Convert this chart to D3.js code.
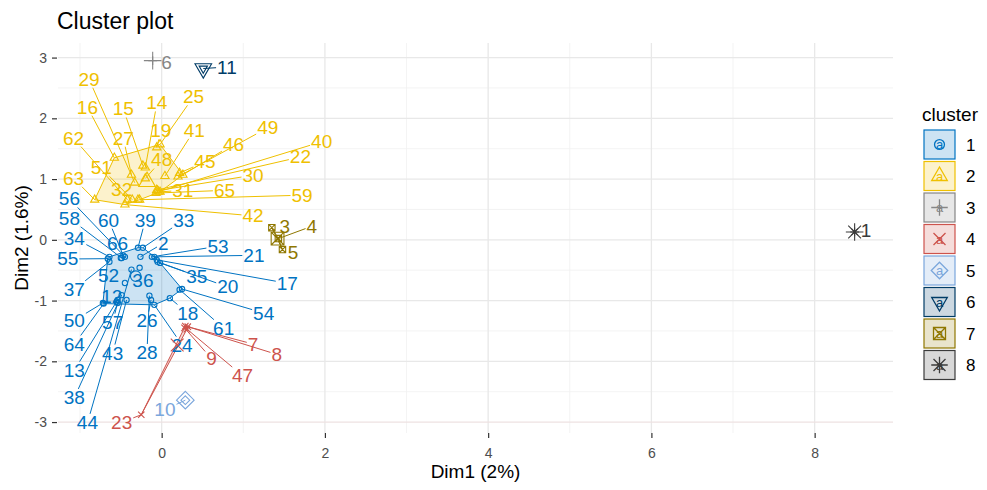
<!DOCTYPE html>
<html>
<head>
<meta charset="utf-8">
<script src="https://cdn.jsdelivr.net/npm/d3@7"></script>
<style>
  body { margin: 0; background: #fff; }
  text { font-family: "Liberation Sans", Arial, sans-serif; }
</style>
</head>
<body>
<svg id="chart" width="987" height="490"></svg>
<script>
// Observations 1..66 with their k-means cluster and PCA coordinates
const obsIds = d3.range(1, 67);
const cluster = [8,1,7,7,7,3,4,4,4,5,6,1,1,2,2,2,1,1,2,1,1,2,4,1,2,1,2,1,2,2,2,2,1,1,1,1,1,1,1,2,2,2,1,1,2,2,4,2,2,1,2,1,1,1,1,1,1,1,2,1,1,2,2,1,2,1];
const dim1 = [8.49,-0.26,1.35,1.43,1.48,-0.11,0.29,0.32,0.28,0.29,
  0.51,-0.55,-0.54,-0.20,-0.23,-0.58,-0.06,0.10,-0.06,-0.02,
  -0.09,-0.06,-0.25,-0.09,-0.02,-0.13,-0.37,-0.15,-0.33,-0.05,
  -0.02,-0.29,-0.23,-0.64,-0.05,-0.27,-0.64,-0.49,-0.29,-0.04,
  0.04,-0.45,-0.43,-0.37,0.22,0.26,0.31,-0.20,0.20,-0.72,
  -0.36,-0.45,-0.12,0.25,-0.66,-0.45,-0.54,-0.49,-0.27,-0.47,
  0.22,-0.42,-0.82,-0.71,-0.07,-0.50];
const dim2 = [0.13,-0.28,0.20,0.02,-0.16,2.95,-1.42,-1.43,-1.45,-2.64,
  2.82,-1.02,-0.99,1.19,1.22,1.35,-0.33,-0.96,1.52,-0.38,
  -0.28,0.82,-2.88,-1.07,1.57,-0.99,1.07,-0.92,0.94,0.81,
  0.79,0.66,-0.13,-0.28,-0.36,-0.46,-0.36,-0.91,-0.13,0.79,
  1.05,0.58,-0.99,-0.49,1.10,1.07,-1.47,1.01,1.04,-1.04,
  0.66,-0.71,-0.28,-0.81,-0.31,-0.28,-1.04,-0.30,0.66,-0.26,
  -0.82,0.66,0.66,-1.05,0.77,-0.30];
// Repelled label positions (same units as the dimensions)
const labelDim1 = [8.63,0.02,1.51,1.84,1.61,0.06,1.12,1.41,0.61,0.04,
  0.80,-0.61,-1.07,-0.06,-0.47,-0.91,1.54,0.32,-0.01,0.81,
  1.13,1.70,-0.49,0.25,0.39,-0.18,-0.47,-0.18,-0.89,1.12,
  0.26,-0.49,0.27,-1.07,0.43,-0.23,-1.07,-1.07,-0.20,1.96,
  0.40,1.12,-0.60,-0.91,0.53,0.88,0.99,0.00,1.30,-1.07,
  -0.74,-0.65,0.69,1.25,-1.15,-1.13,-0.60,-1.13,1.72,-0.65,
  0.76,-1.08,-1.08,-1.07,0.77,-0.54];
const labelDim2 = [0.16,-0.05,0.23,0.23,-0.21,2.93,-1.71,-1.88,-1.95,-2.79,
  2.85,-0.92,-2.14,2.26,2.16,2.19,-0.71,-1.20,1.80,-0.77,
  -0.25,1.37,-3.00,-1.73,2.36,-1.32,1.68,-1.85,2.65,1.07,
  0.82,0.84,0.33,0.03,-0.59,-0.66,-0.81,-2.59,0.33,1.62,
  1.81,0.40,-1.86,-3.00,1.29,1.58,-2.23,1.32,1.85,-1.32,
  1.19,-0.58,-0.10,-1.20,-0.31,0.68,-1.35,0.36,0.74,0.33,
  -1.45,1.68,1.02,-1.71,0.82,-0.05];

const clusterLevels = [1,2,3,4,5,6,7,8];
const palette = ["#0073C2","#EFC000","#868686","#CD534C","#7AA6DC","#003C67","#8F7700","#3B3B3B"];
const xTicks = [0,2,4,6,8];
const yTicks = [-3,-2,-1,0,1,2,3];

const svg = d3.select("#chart");
const W = 987, H = 490;
const panel = {left: 58, right: 893, top: 43, bottom: 433};

const x = d3.scaleLinear().domain([-1.27, 8.96]).range([panel.left, panel.right]);
const y = d3.scaleLinear().domain([-3.18, 3.24]).range([panel.bottom, panel.top]);
const color = d3.scaleOrdinal().domain(clusterLevels).range(palette);
const shapeOf = d3.scaleOrdinal().domain(clusterLevels).range([1,2,3,4,5,6,7,8]);

const obs = obsIds.map((id, i) => ({
  id, cl: cluster[i], x: dim1[i], y: dim2[i], lx: labelDim1[i], ly: labelDim2[i]
}));

// R-style plotting symbols (pch 1..8) as paths centred on 0,0
function symbolPath(pch, u) {
  const p = d3.path();
  const line = (pts) => { p.moveTo(pts[0][0], pts[0][1]); for (let k = 1; k < pts.length; k++) p.lineTo(pts[k][0], pts[k][1]); };
  const poly = (pts) => { line(pts); p.closePath(); };
  const a = 0.55 * u, b = 0.4 * u;
  switch (pch) {
    case 1: p.moveTo(0.33 * u, 0); p.arc(0, 0, 0.33 * u, 0, 2 * Math.PI); break;
    case 2: poly([[0, -0.6 * u], [0.52 * u, 0.3 * u], [-0.52 * u, 0.3 * u]]); break;
    case 3: line([[-a, 0], [a, 0]]); line([[0, -a], [0, a]]); break;
    case 4: line([[-b, -b], [b, b]]); line([[-b, b], [b, -b]]); break;
    case 5: poly([[0, -a], [a, 0], [0, a], [-a, 0]]); break;
    case 6: poly([[0, 0.6 * u], [0.52 * u, -0.3 * u], [-0.52 * u, -0.3 * u]]); break;
    case 7: poly([[-b, -b], [b, -b], [b, b], [-b, b]]); line([[-b, -b], [b, b]]); line([[-b, b], [b, -b]]); break;
    case 8: line([[-a, 0], [a, 0]]); line([[0, -a], [0, a]]); line([[-b, -b], [b, b]]); line([[-b, b], [b, -b]]); break;
  }
  return p.toString();
}

// Title
svg.append("text").attr("x", 57).attr("y", 29).attr("font-size", 23).attr("fill", "#000").text("Cluster plot");

// Grid
const grid = svg.append("g");
const xMinor = [-1,1,3,5,7], yMinor = [-2.5,-1.5,-0.5,0.5,1.5,2.5];
grid.selectAll(".xmin").data(xMinor).join("line")
  .attr("x1", d => x(d)).attr("x2", d => x(d)).attr("y1", panel.top).attr("y2", panel.bottom)
  .attr("stroke", "#f0f0f0").attr("stroke-width", 0.8);
grid.selectAll(".ymin").data(yMinor).join("line")
  .attr("y1", d => y(d)).attr("y2", d => y(d)).attr("x1", panel.left).attr("x2", panel.right)
  .attr("stroke", "#f0f0f0").attr("stroke-width", 0.8);
grid.selectAll(".xmaj").data(xTicks).join("line")
  .attr("x1", d => x(d)).attr("x2", d => x(d)).attr("y1", panel.top).attr("y2", panel.bottom)
  .attr("stroke", "#e8e8e8").attr("stroke-width", 1.3);
grid.selectAll(".ymaj").data(yTicks).join("line")
  .attr("y1", d => y(d)).attr("y2", d => y(d)).attr("x1", panel.left).attr("x2", panel.right)
  .attr("stroke", d => d === -3 ? "#eee2e2" : "#e8e8e8").attr("stroke-width", 1.3);

// Axes
const xAxis = svg.append("g").attr("transform", `translate(0,${panel.bottom})`)
  .call(d3.axisBottom(x).tickValues(xTicks).tickSize(5).tickPadding(10).tickFormat(d3.format("d")));
const yAxis = svg.append("g").attr("transform", `translate(${panel.left - 1},0)`)
  .call(d3.axisLeft(y).tickValues(yTicks).tickSize(5).tickPadding(5).tickFormat(d => d < 0 ? "-" + Math.abs(d) : String(d)));
[xAxis, yAxis].forEach(g => {
  g.select(".domain").remove();
  g.selectAll(".tick line").attr("stroke", "#333").attr("stroke-width", 1.2);
  g.selectAll(".tick text").attr("fill", "#4d4d4d").attr("font-size", 14)
    .attr("font-family", "'Liberation Sans', Arial, sans-serif");
});

svg.append("text").attr("x", (panel.left + panel.right) / 2).attr("y", 478)
  .attr("text-anchor", "middle").attr("font-size", 19).attr("fill", "#000").text("Dim1 (2%)");
svg.append("text").attr("transform", `translate(28,${(panel.top + panel.bottom) / 2}) rotate(-90)`)
  .attr("text-anchor", "middle").attr("font-size", 19).attr("fill", "#000").text("Dim2 (1.6%)");

// Convex hulls per cluster
const byCluster = d3.group(obs, d => d.cl);
const hullG = svg.append("g");
clusterLevels.forEach(c => {
  const pts = (byCluster.get(c) || []).map(d => [x(d.x), y(d.y)]);
  if (pts.length < 3) return;
  const hull = d3.polygonHull(pts);
  hullG.append("path").attr("d", "M" + hull.join("L") + "Z")
    .attr("fill", color(c)).attr("fill-opacity", 0.2)
    .attr("stroke", color(c)).attr("stroke-width", 1);
});

const segG = svg.append("g");
const ptG = svg.append("g");
const labG = svg.append("g");
const cenG = svg.append("g");

// Points
ptG.selectAll("path").data(obs).join("path")
  .attr("transform", d => `translate(${x(d.x)},${y(d.y)})`)
  .attr("d", d => symbolPath(shapeOf(d.cl), 8))
  .attr("fill", "none").attr("stroke", d => color(d.cl)).attr("stroke-width", 1.1);

// Labels
const labels = labG.selectAll("text").data(obs).join("text")
  .attr("x", d => x(d.lx)).attr("y", d => y(d.ly)).attr("dy", "0.36em")
  .attr("text-anchor", "middle").attr("font-size", 19)
  .attr("fill", d => color(d.cl)).text(d => d.id);

// Leader segments from each point to its label box
labels.each(function(d) {
  const bb = this.getBBox();
  const cx = bb.x + bb.width / 2, cy = bb.y + bb.height / 2;
  const hw = bb.width / 2 + 1, hh = bb.height * 0.36 + 1;
  const px = x(d.x), py = y(d.y);
  const dx = px - cx, dy = py - cy;
  const t = Math.min(dx !== 0 ? hw / Math.abs(dx) : Infinity, dy !== 0 ? hh / Math.abs(dy) : Infinity);
  if (t >= 1) return;
  const ex = cx + dx * t, ey = cy + dy * t;
  if (Math.hypot(px - ex, py - ey) < 8) return;
  segG.append("line").attr("x1", px).attr("y1", py).attr("x2", ex).attr("y2", ey)
    .attr("stroke", color(d.cl)).attr("stroke-width", 1);
});

// Cluster centres
const centres = clusterLevels.map(c => {
  const m = byCluster.get(c);
  return {cl: c, x: d3.mean(m, d => d.x), y: d3.mean(m, d => d.y)};
});
cenG.selectAll("path").data(centres).join("path")
  .attr("transform", d => `translate(${x(d.x)},${y(d.y)})`)
  .attr("d", d => symbolPath(shapeOf(d.cl), 16))
  .attr("fill", "none").attr("stroke", d => color(d.cl)).attr("stroke-width", 1.1);

// Legend
const leg = svg.append("g");
leg.append("text").attr("x", 922).attr("y", 121).attr("font-size", 19).attr("fill", "#000").text("cluster");
const keys = leg.selectAll(".key").data(clusterLevels).join("g")
  .attr("transform", (d, i) => `translate(924,${130 + i * 31.5})`);
keys.append("rect").attr("width", 31).attr("height", 29)
  .attr("fill", d => color(d)).attr("fill-opacity", 0.2)
  .attr("stroke", d => color(d)).attr("stroke-width", 1.2);
keys.append("path").attr("transform", "translate(15.5,14.5)")
  .attr("d", d => symbolPath(shapeOf(d), 15))
  .attr("fill", "none").attr("stroke", d => color(d)).attr("stroke-width", 1.3);
keys.append("text").attr("x", 15.5).attr("y", 14.5).attr("dy", "0.36em").attr("text-anchor", "middle")
  .attr("font-size", 13).attr("fill", d => color(d)).text("a");
keys.append("text").attr("x", 42).attr("y", 14.5).attr("dy", "0.36em")
  .attr("font-size", 17).attr("fill", "#000").text(d => d);
</script>
</body>
</html>
